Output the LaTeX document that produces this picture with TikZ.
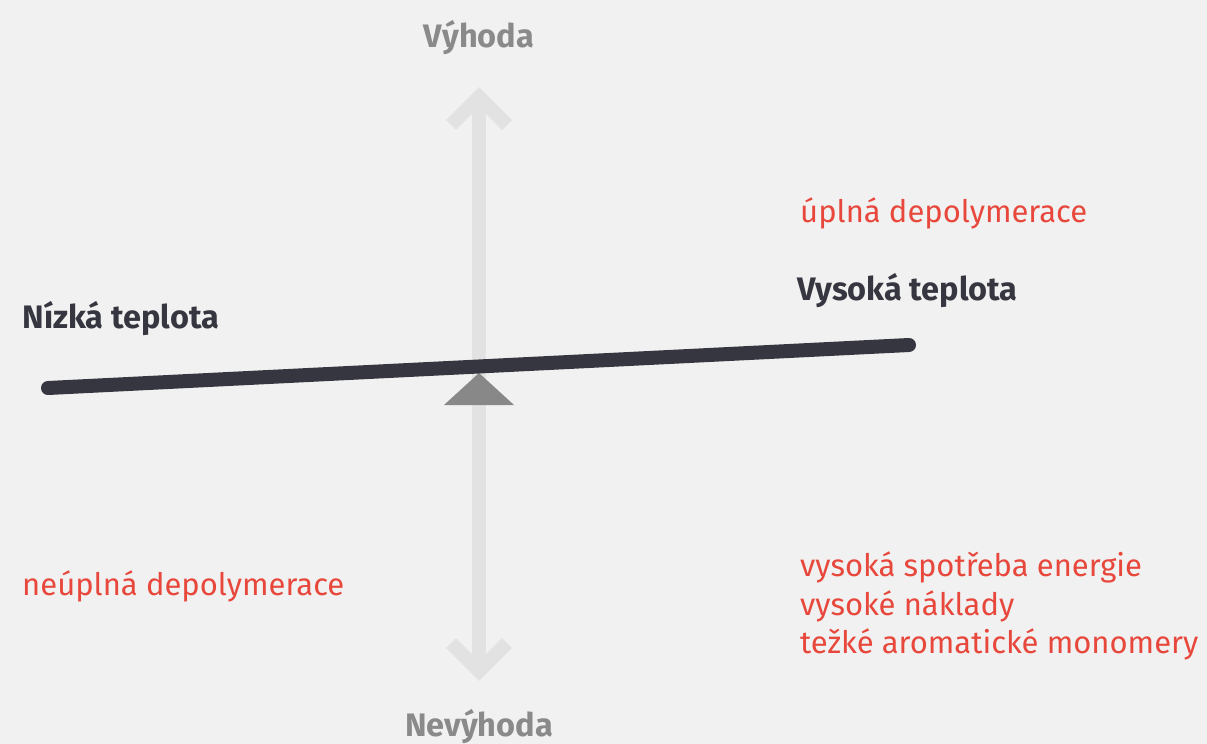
\documentclass[tikz,border=0pt]{standalone}
\usepackage{fontspec}
\setmainfont{Fira Sans}
\begin{document}
\begin{tikzpicture}[x=1pt,y=-1pt,
  lbl/.style={inner sep=0pt,font=\fontsize{31}{38.5}\selectfont},
  axislbl/.style={lbl,font=\fontsize{32.5}{36}\selectfont\bfseries,text=axisgray},
  templbl/.style={lbl,font=\fontsize{32.5}{36}\selectfont\bfseries,text=beamdark,anchor=west},
  effect/.style={lbl,text=effred,anchor=west,align=left}]
\definecolor{bg}{HTML}{F1F1F1}
\definecolor{axisbar}{HTML}{E2E2E2}
\definecolor{axisgray}{HTML}{8A8A8A}
\definecolor{beamdark}{HTML}{363640}
\definecolor{fulcrum}{HTML}{888888}
\definecolor{effred}{HTML}{E8473C}
\fill[bg] (0,0) rectangle (1207,744);
\useasboundingbox (0,0) rectangle (1207,744);
% vertical axis with two chevron heads
\coordinate (top) at (479,97);
\coordinate (bot) at (479,671);
\draw[axisbar,line width=14pt] (top) -- (bot);
\draw[axisbar,line width=14pt,line join=miter] (451,125) -- (top) -- (507,125);
\draw[axisbar,line width=14pt,line join=miter] (451,643) -- (bot) -- (507,643);
% fulcrum
\fill[fulcrum] (479,373) -- (514,405) -- (444,405) -- cycle;
% tilted beam
\coordinate (bl) at (48,388);
\coordinate (br) at (909,345);
\draw[beamdark,line width=14pt,line cap=round] (bl) -- (br);
% labels
\node[axislbl] (adv) at (479,38) {Výhoda};
\node[axislbl] (dis) at (479,727) {Nevýhoda};
\node[templbl] (low) at (22,319) {Nízká teplota};
\node[templbl] (high) at (797,291) {Vysoká teplota};
\node[effect] (e1) at (800,213) {úplná depolymerace};
\node[effect] (e2) at (22,586) {neúplná depolymerace};
\node[effect] (e3) at (800,606) {vysoká spotřeba energie\\vysoké náklady\\težké aromatické monomery};
\end{tikzpicture}
\end{document}
